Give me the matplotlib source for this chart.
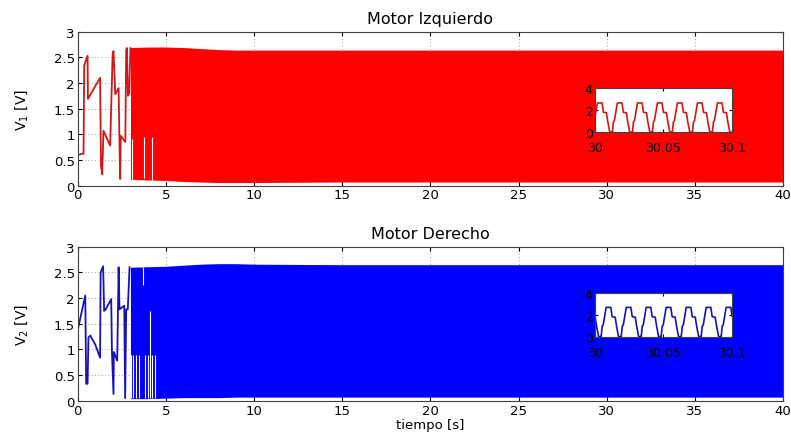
import numpy as np
import matplotlib
matplotlib.use('Agg')
import matplotlib.pyplot as plt

plt.rcParams['font.family'] = ['DejaVu Sans']

# ---- transient (before the fast switching starts) ----
red_t = [0.0, 0.25, 0.34, 0.38, 0.57, 0.59, 1.28, 1.33, 1.40, 1.47, 1.85, 1.99, 2.04, 2.14, 2.33, 2.37, 2.42, 2.45, 2.71, 2.76, 2.80, 2.86, 2.93, 3.0]
red_v = [0.59, 0.62, 0.62, 2.34, 2.53, 1.69, 2.10, 0.39, 0.22, 1.07, 0.78, 2.55, 2.62, 1.78, 1.90, 1.00, 0.13, 0.97, 0.85, 2.65, 2.68, 1.75, 1.80, 2.68]

blue_t = [0.0, 0.44, 0.49, 0.57, 0.62, 0.72, 1.0, 1.28, 1.31, 1.45, 1.51, 1.6, 1.91, 1.95, 2.04, 2.06, 2.25, 2.33, 2.38, 2.65, 2.70, 2.76, 2.85, 2.95]
blue_v = [1.36, 2.05, 0.33, 0.33, 1.23, 1.27, 1.10, 0.84, 2.50, 2.62, 1.75, 1.78, 1.98, 0.97, 0.13, 0.95, 0.78, 2.60, 1.78, 1.85, 0.05, 1.78, 1.78, 2.60]

# ---- envelope of the fast oscillation ----
env_t = [3.0, 4, 5, 6, 7, 8, 9, 10, 15, 20, 25, 30, 35, 40]
red_hi = [2.69, 2.70, 2.70, 2.69, 2.67, 2.65, 2.64, 2.64, 2.64, 2.64, 2.64, 2.64, 2.64, 2.64]
red_lo = [0.12, 0.11, 0.10, 0.08, 0.07, 0.06, 0.06, 0.06, 0.07, 0.07, 0.07, 0.07, 0.07, 0.07]
blue_hi = [2.60, 2.61, 2.62, 2.64, 2.66, 2.67, 2.67, 2.66, 2.65, 2.65, 2.65, 2.65, 2.65, 2.65]
blue_lo = [0.04, 0.04, 0.05, 0.06, 0.06, 0.06, 0.07, 0.07, 0.07, 0.07, 0.07, 0.07, 0.07, 0.07]

# white gaps inside the band (t, v_low, v_high)
red_gaps = [(3.07, 0.10, 0.90), (3.79, 0.15, 0.95), (4.2, 0.10, 0.95)]
blue_gaps = [(3.05, 0.05, 0.90), (3.15, 0.05, 0.90), (3.3, 0.05, 0.90), (3.5, 0.05, 0.90),
             (3.7, 2.25, 2.60), (3.85, 0.05, 0.90), (4.0, 0.05, 0.90), (4.1, 0.05, 1.75),
             (4.25, 0.05, 0.90), (4.4, 0.05, 0.90)]

# ---- zoom window 30 .. 30.1 s : one measured cycle (fraction of period, V) ----
cyc_phase = [0.0, 0.05, 0.10, 0.15, 0.30, 0.53, 0.60, 0.75, 0.82, 0.92, 1.0]
cyc_v = [0.0, 0.0, 0.95, 1.05, 2.67, 2.67, 1.82, 1.78, 0.95, 0.0, 0.0]
period = 0.01463
red_starts = [29.9975, 30.0121, 30.0268, 30.0414, 30.0560, 30.0707, 30.0853]
blue_starts = [29.9893, 30.0039, 30.0186, 30.0332, 30.0478, 30.0625, 30.0771, 30.0917]

titles = ['Motor Izquierdo', 'Motor Derecho']
ylabels = ['V$_1$ [V]', 'V$_2$ [V]']


def cycles(starts):
    tt, vv = [], []
    for s in starts:
        tt += [s + p * period for p in cyc_phase]
        vv += cyc_v
    return tt, vv


fig = plt.figure(figsize=(7.91, 4.35), dpi=100)
ax1 = fig.add_axes([0.098, 0.571, 0.892, 0.354])
ax2 = fig.add_axes([0.098, 0.0765, 0.892, 0.354])

sets = [
    (ax1, red_t, red_v, red_hi, red_lo, red_gaps, red_starts, '#ff0000', '#d01818', 0.6936),
    (ax2, blue_t, blue_v, blue_hi, blue_lo, blue_gaps, blue_starts, '#0000ff', '#1414b4', 0.2237),
]

for i, (ax, tt, vv, hi, lo, gaps, starts, band_c, line_c, iy) in enumerate(sets):
    ax.set_axisbelow(True)
    ax.plot(tt, vv, color=line_c, lw=1.3)
    ax.fill_between(env_t, lo, hi, color=band_c, lw=0)
    for g in gaps:
        ax.vlines(g[0], g[1], g[2], color='white', lw=0.8)
    ax.set_xlim(0, 40)
    ax.set_ylim(0, 3)
    ax.set_xticks(np.arange(0, 41, 5))
    ax.set_yticks([0, 0.5, 1, 1.5, 2, 2.5, 3])
    ax.set_yticklabels(['0', '0.5', '1', '1.5', '2', '2.5', '3'])
    ax.tick_params(direction='in', top=True, right=True, labelsize=9.5, length=3, pad=2)
    ax.grid(True, ls=(0, (1, 3)), color='#808080', lw=0.6)
    for sp in ax.spines.values():
        sp.set_color('#404040')
        sp.set_linewidth(0.8)
    ax.set_title(titles[i], fontsize=11.5, pad=6)
    ax.set_ylabel(ylabels[i], fontsize=10, labelpad=17)

    ins = fig.add_axes([0.752, iy, 0.1728, 0.101])
    zt, zv = cycles(starts)
    ins.plot(zt, zv, color=line_c, lw=1.2)
    ins.set_xlim(30, 30.1)
    ins.set_ylim(0, 4)
    ins.set_xticks([30, 30.05, 30.1])
    ins.set_xticklabels(['30', '30.05', '30.1'])
    ins.set_yticks([0, 2, 4])
    ins.tick_params(direction='in', top=True, right=True, labelsize=9, length=2)
    ins.tick_params(axis='x', pad=6.5)
    ins.tick_params(axis='y', pad=1.5)
    for sp in ins.spines.values():
        sp.set_color('#404040')
        sp.set_linewidth(0.8)

ax2.set_xlabel('tiempo [s]', fontsize=9.5, labelpad=1)

fig.savefig('out.png', dpi=100)
